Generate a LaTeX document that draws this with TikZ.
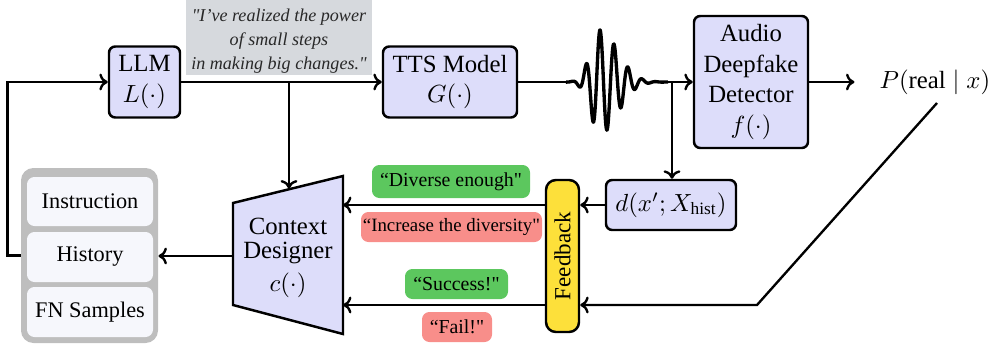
\documentclass[tikz,border=0pt]{standalone}
\usepackage{amsmath}
\usepackage{graphicx}
\usepackage{fontspec}
\setmainfont{Liberation Serif}
\usetikzlibrary{arrows.meta}
\definecolor{lav}{RGB}{221,221,250}
\definecolor{qgray}{RGB}{214,217,221}
\definecolor{qtext}{RGB}{40,40,40}
\definecolor{tgreen}{RGB}{92,199,94}
\definecolor{tred}{RGB}{248,142,138}
\definecolor{fbyel}{RGB}{253,224,58}
\definecolor{pgray}{RGB}{190,190,190}
\definecolor{pin}{RGB}{246,247,252}
\def\pxu{0.4035pt}
\def\sq{\textquotedbl}
\begin{document}
\begin{tikzpicture}[x=0.4035pt,y=-0.4035pt,
  box/.style={draw, line width=1pt, rounded corners=2.5pt, fill=lav, align=center, inner sep=0pt,
    font=\fontsize{10}{12.5}\selectfont},
  conn/.style={line width=0.95pt},
  arr/.style={conn,-{To[length=3.4pt,width=6.8pt]}},
  tag/.style={rounded corners=3pt, inner sep=0pt, font=\fontsize{8}{9}\selectfont},
  inbox/.style={fill=pin, rounded corners=3pt, inner sep=0pt, minimum width=126*\pxu, minimum height=49*\pxu,
    font=\fontsize{9}{10}\selectfont}]
\useasboundingbox (0,0) rectangle (991,345);
% quote
\node[fill=qgray, inner sep=0pt, minimum width=186*\pxu, minimum height=82*\pxu] (qbox) at (279,34) {};
\node[align=center, inner sep=0pt, text=qtext, font=\fontsize{7.3}{9.7}\selectfont\itshape] (quote) at (279,41)
  {\sq I've realized the power\\of small steps\\in making big changes.\sq};
% main boxes
\node[box, minimum width=71*\pxu, minimum height=71*\pxu] (llm) at (144.5,82) {LLM\\$L(\cdot)$};
\node[box, minimum width=134*\pxu, minimum height=71*\pxu] (tts) at (450,82) {TTS Model\\$G(\cdot)$};
\node[box, minimum width=114*\pxu, minimum height=132*\pxu] (det) at (751,82) {Audio\\Deepfake\\Detector\\$f(\cdot)$};
\node[inner sep=0pt, font=\fontsize{10}{12}\selectfont] (P) at (935,82) {$P(\text{real}\mid x)$};
\node[box, minimum width=130*\pxu, minimum height=50*\pxu] (dnode) at (671,205) {$d(x';X_{\text{hist}})$};
\node[draw, line width=1pt, fill=fbyel, rounded corners=4pt, inner sep=0pt, minimum width=33*\pxu, minimum height=152*\pxu,
  font=\fontsize{9.3}{11}\selectfont] (fb) at (562.5,256) {\rotatebox{90}{Feedback}};
% tags
\node[tag, fill=tgreen, minimum width=158*\pxu, minimum height=33*\pxu] (t1) at (451,181.5) {``Diverse enough\sq};
\node[tag, fill=tred, minimum width=181*\pxu, minimum height=30*\pxu, font=\fontsize{7.6}{9}\selectfont] (t2) at (451.5,227) {``Increase the diversity\sq};
\node[tag, fill=tgreen, minimum width=103*\pxu, minimum height=30*\pxu] (t3) at (456.5,284) {``Success!\sq};
\node[tag, fill=tred, minimum width=70*\pxu, minimum height=30*\pxu] (t4) at (457,327) {``Fail!\sq};
% panel
\node[fill=pgray, rounded corners=5pt, inner sep=0pt, minimum width=137*\pxu, minimum height=175*\pxu] (panel) at (89.5,255.5) {};
\node[inbox] (ins) at (90,201.5) {Instruction};
\node[inbox, minimum height=50*\pxu] (hist) at (90,257) {History};
\node[inbox, minimum height=50*\pxu] (fn) at (90,312) {FN Samples};
% context designer
\coordinate (cdtl) at (233,203);
\coordinate (cdtr) at (343,176);
\coordinate (cdbr) at (343,334);
\coordinate (cdbl) at (233,305);
\coordinate (cdl) at (233,256);
\coordinate (cdtop) at (289,188.5);
\draw[line width=1pt, fill=lav, line join=miter] (cdtl) -- (cdtr) -- (cdbr) -- (cdbl) -- cycle;
\node[align=center, inner sep=0pt, font=\fontsize{10}{12}\selectfont] (cd) at (288,258) {Context\\[-2.5pt]Designer\\[1.5pt]$c(\cdot)$};
% connectors
\coordinate (b1) at (289,82);
\coordinate (b2) at (672,82);
\coordinate (ws) at (566,82);
\coordinate (we) at (668,82);
\coordinate (pb) at (937,103);
\coordinate (kink) at (757,305);
\draw[arr] (llm.east) -- (tts.west);
\draw[arr] (b1) -- (cdtop);
\draw[conn] (tts.east) -- (ws);
\draw[line width=1.35pt, line join=round]
  plot[domain=566:600, samples=120, smooth] (\x, {82 - 52*exp(-(\x-600)*(\x-600)/180)*cos(25.7143*(\x-600))})
  -- plot[domain=600:668, samples=220, smooth] (\x, {82 - 52*exp(-(\x-600)*(\x-600)/625)*cos(25.7143*(\x-600))});
\draw[arr] (we) -- (det.west);
\draw[arr] (b2) -- (b2 |- dnode.north);
\draw[arr, shorten >=10pt] (det.east) -- (P.west);
\draw[arr] (dnode.west) -- (fb.east |- dnode);
\draw[arr] (pb) -- (kink) -- (fb.east |- kink);
\draw[arr] (fb.west |- dnode) -- (cdtr |- dnode);
\draw[arr] (fb.west |- kink) -- (cdtr |- kink);
\draw[arr] (cdl) -- (panel.east |- cdl);
\draw[arr] (panel.west) -- ++(-13,0) |- (llm.west);
\end{tikzpicture}
\end{document}
